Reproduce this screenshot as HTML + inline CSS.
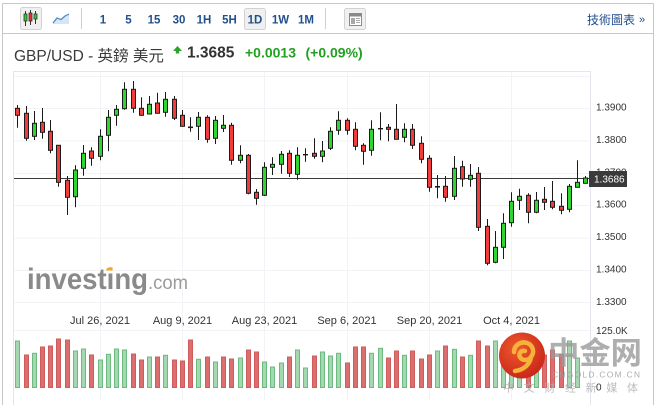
<!DOCTYPE html>
<html><head><meta charset="utf-8">
<style>
html,body{margin:0;padding:0;background:#fff;}
body{width:656px;height:405px;overflow:hidden;}
svg{display:block;font-family:"Liberation Sans","Noto Sans CJK TC",sans-serif;}
.r{fill:#f23b3b;stroke:#1a1a1a;stroke-width:1}
.g{fill:#30d630;stroke:#1a1a1a;stroke-width:1}
.vr{fill:#dc6e6e;stroke:#cf5c5c;stroke-width:1}
.vg{fill:#a3d8b0;stroke:#6cba80;stroke-width:1}
.ax{font-size:10px;fill:#333}
.dt{font-size:11px;fill:#333;text-anchor:middle}
.iv{font-size:11.5px;font-weight:bold;fill:#22508c;text-anchor:middle}
</style></head>
<body>
<svg width="656" height="405" viewBox="0 0 656 405" xmlns="http://www.w3.org/2000/svg">
<!-- widget frame -->
<rect x="0" y="0" width="656" height="405" fill="#fff"/>
<path d="M2.5 3.5H653.5M2.5 3.5V405M653.5 3.5V405M2.5 33.5H653.5" stroke="#c8c8c8" fill="none"/>

<!-- toolbar -->
<rect x="20.5" y="7.5" width="21" height="22" rx="2" fill="#f0f0f0" stroke="#d2d2d2"/>
<path d="M25.5 11V26M30.5 10V25M35.5 11V24" stroke="#333"/>
<rect x="24" y="14" width="3" height="7" fill="#2fcf2f" stroke="#333" stroke-width="0.8"/>
<rect x="29" y="13" width="3" height="8" fill="#f03030" stroke="#333" stroke-width="0.8"/>
<rect x="34" y="14" width="3" height="5" fill="#2fcf2f" stroke="#333" stroke-width="0.8"/>
<path d="M53 23L57 18L61 19.5L65 16L69 14V24H53Z" fill="#d6e6f5"/>
<path d="M53 23L57 18L61 19.5L65 16L69 14" stroke="#4a86c5" stroke-width="1.2" fill="none"/>
<path d="M81.5 8V29M325.5 8V29" stroke="#cfcfcf"/>
<rect x="244.5" y="8.5" width="21" height="21" rx="2" fill="#f0f0f0" stroke="#d2d2d2"/>
<text class="iv" x="103" y="23.5">1</text>
<text class="iv" x="128.5" y="23.5">5</text>
<text class="iv" x="154" y="23.5">15</text>
<text class="iv" x="179" y="23.5">30</text>
<text class="iv" x="204" y="23.5">1H</text>
<text class="iv" x="229.5" y="23.5">5H</text>
<text class="iv" x="255" y="23.5">1D</text>
<text class="iv" x="280.5" y="23.5">1W</text>
<text class="iv" x="306" y="23.5">1M</text>
<rect x="344.5" y="8.5" width="21" height="21" rx="2" fill="#f0f0f0" stroke="#d2d2d2"/>
<rect x="349.5" y="13.5" width="12" height="12" fill="#fff" stroke="#8a8a8a"/>
<rect x="349.5" y="13.5" width="12" height="3" fill="#8a8a8a"/>
<rect x="351" y="18" width="4" height="6" fill="#a8a8a8"/>
<path d="M356 18.5H360M356 20.5H360M356 22.5H360" stroke="#a8a8a8"/>
<text x="587" y="24" font-size="12" fill="#1f4d8c" font-family="'Liberation Sans','Noto Sans CJK TC',sans-serif">技術圖表</text>
<text x="639" y="23" font-size="11" fill="#1f4d8c">»</text>

<!-- info row -->
<text x="14" y="61" font-size="15.5" fill="#3a3a3a" font-family="'Liberation Sans','Noto Sans CJK TC',sans-serif">GBP/USD - 英鎊 美元</text>
<path d="M173 51L177.5 46L182 51H179.2V53.5H175.8V51Z" fill="#2aa52a"/>
<text x="187" y="57.5" font-size="15.5" font-weight="bold" fill="#333">1.3685</text>
<text x="245" y="57.5" font-size="14" font-weight="bold" fill="#22a022">+0.0013</text>
<text x="305.5" y="57.5" font-size="14" font-weight="bold" fill="#22a022">(+0.09%)</text>

<!-- chart frame & grid -->
<path d="M13.5 71V405M590.5 71V405M13.5 71.5H590.5" stroke="#e3e7ed" fill="none"/>
<path d="M14 76.5H590M14 108.5H590M14 141H590M14 173.5H590M14 205.5H590M14 238H590M14 270.5H590M14 302.5H590M14 330.5H590" stroke="#f1f3f6" fill="none"/>
<path d="M100.5 72V400M182.5 72V400M264.5 72V400M347.5 72V400M429.5 72V400M511.5 72V400" stroke="#f1f3f6" fill="none"/>

<!-- investing watermark -->
<text x="27" y="289" font-size="30" font-weight="bold" fill="#8a8a8a" textLength="121" lengthAdjust="spacingAndGlyphs">investing</text>
<text x="148" y="289" font-size="19" fill="#9a9a9a" textLength="40" lengthAdjust="spacingAndGlyphs">.com</text>
<path d="M107 268H113L112 270.5H106Z" fill="#f5a623"/>

<!-- axis labels -->
<text class="ax" x="596" y="110.7">1.3900</text>
<text class="ax" x="596" y="143">1.3800</text>
<text class="ax" x="596" y="175.5">1.3700</text>
<text class="ax" x="596" y="207.6">1.3600</text>
<text class="ax" x="596" y="240">1.3500</text>
<text class="ax" x="596" y="272.3">1.3400</text>
<text class="ax" x="596" y="304.8">1.3300</text>
<text class="ax" x="596" y="334">125.0K</text>
<text class="ax" x="596" y="390.5">0</text>

<!-- date labels -->
<text class="dt" x="100" y="324">Jul 26, 2021</text>
<text class="dt" x="182.5" y="324">Aug 9, 2021</text>
<text class="dt" x="264.5" y="324">Aug 23, 2021</text>
<text class="dt" x="347" y="324">Sep 6, 2021</text>
<text class="dt" x="429.5" y="324">Sep 20, 2021</text>
<text class="dt" x="511.5" y="324">Oct 4, 2021</text>

<!-- volume -->
<g>
<rect class="vg" x="15.5" y="341" width="4" height="46.5"/>
<rect class="vr" x="24.5" y="355" width="4" height="32.5"/>
<rect class="vg" x="32.5" y="353.3" width="4" height="34.2"/>
<rect class="vr" x="40.5" y="347" width="4" height="40.5"/>
<rect class="vr" x="48.5" y="346" width="4" height="41.5"/>
<rect class="vr" x="56.5" y="339" width="4" height="48.5"/>
<rect class="vr" x="65.5" y="340" width="4" height="47.5"/>
<rect class="vg" x="73.5" y="351" width="4" height="36.5"/>
<rect class="vg" x="81.5" y="349" width="4" height="38.5"/>
<rect class="vr" x="89.5" y="355" width="4" height="32.5"/>
<rect class="vg" x="98.5" y="360" width="4" height="27.5"/>
<rect class="vg" x="106.5" y="354.3" width="4" height="33.2"/>
<rect class="vg" x="114.5" y="349" width="4" height="38.5"/>
<rect class="vg" x="122.5" y="350" width="4" height="37.5"/>
<rect class="vr" x="131.5" y="354" width="4" height="33.5"/>
<rect class="vr" x="139.5" y="360" width="4" height="27.5"/>
<rect class="vg" x="147.5" y="357" width="4" height="30.5"/>
<rect class="vr" x="155.5" y="357" width="4" height="30.5"/>
<rect class="vg" x="163.5" y="355.3" width="4" height="32.2"/>
<rect class="vr" x="172.5" y="360" width="4" height="27.5"/>
<rect class="vr" x="180.5" y="361" width="4" height="26.5"/>
<rect class="vr" x="188.5" y="340" width="4" height="47.5"/>
<rect class="vg" x="196.5" y="359.3" width="4" height="28.2"/>
<rect class="vr" x="205.5" y="357" width="4" height="30.5"/>
<rect class="vg" x="213.5" y="362" width="4" height="25.5"/>
<rect class="vr" x="221.5" y="357" width="4" height="30.5"/>
<rect class="vr" x="229.5" y="359" width="4" height="28.5"/>
<rect class="vg" x="238.5" y="358" width="4" height="29.5"/>
<rect class="vr" x="246.5" y="350" width="4" height="37.5"/>
<rect class="vr" x="254.5" y="352" width="4" height="35.5"/>
<rect class="vg" x="262.5" y="362" width="4" height="25.5"/>
<rect class="vg" x="270.5" y="367" width="4" height="20.5"/>
<rect class="vg" x="279.5" y="363" width="4" height="24.5"/>
<rect class="vr" x="287.5" y="357" width="4" height="30.5"/>
<rect class="vg" x="295.5" y="350" width="4" height="37.5"/>
<rect class="vg" x="303.5" y="368" width="4" height="19.5"/>
<rect class="vr" x="312.5" y="356" width="4" height="31.5"/>
<rect class="vg" x="320.5" y="352" width="4" height="35.5"/>
<rect class="vg" x="328.5" y="356" width="4" height="31.5"/>
<rect class="vg" x="336.5" y="353.3" width="4" height="34.2"/>
<rect class="vr" x="345.5" y="363" width="4" height="24.5"/>
<rect class="vr" x="353.5" y="347" width="4" height="40.5"/>
<rect class="vr" x="361.5" y="347" width="4" height="40.5"/>
<rect class="vg" x="369.5" y="353.3" width="4" height="34.2"/>
<rect class="vg" x="378.5" y="348.3" width="4" height="39.2"/>
<rect class="vr" x="386.5" y="358" width="4" height="29.5"/>
<rect class="vr" x="394.5" y="351" width="4" height="36.5"/>
<rect class="vg" x="402.5" y="355.3" width="4" height="32.2"/>
<rect class="vr" x="410.5" y="351" width="4" height="36.5"/>
<rect class="vr" x="419.5" y="359" width="4" height="28.5"/>
<rect class="vr" x="427.5" y="355" width="4" height="32.5"/>
<rect class="vg" x="435.5" y="351" width="4" height="36.5"/>
<rect class="vr" x="443.5" y="346" width="4" height="41.5"/>
<rect class="vg" x="452.5" y="349.3" width="4" height="38.2"/>
<rect class="vr" x="460.5" y="357" width="4" height="30.5"/>
<rect class="vg" x="468.5" y="355.3" width="4" height="32.2"/>
<rect class="vr" x="476.5" y="341" width="4" height="46.5"/>
<rect class="vr" x="485.5" y="346" width="4" height="41.5"/>
<rect class="vg" x="493.5" y="341" width="4" height="46.5"/>
<rect class="vg" x="501.5" y="345" width="4" height="42.5"/>
<rect class="vg" x="509.5" y="348" width="4" height="39.5"/>
<rect class="vg" x="517.5" y="350" width="4" height="37.5"/>
<rect class="vr" x="526.5" y="348" width="4" height="39.5"/>
<rect class="vg" x="534.5" y="352" width="4" height="35.5"/>
<rect class="vr" x="542.5" y="355" width="4" height="32.5"/>
<rect class="vr" x="550.5" y="350" width="4" height="37.5"/>
<rect class="vr" x="559.5" y="354.3" width="4" height="33.2"/>
<rect class="vg" x="567.5" y="341" width="4" height="46.5"/>
<rect class="vg" x="575.5" y="358" width="4" height="29.5"/>
</g>

<!-- current price line -->
<path d="M14 178.5H590" stroke="#3a3a3a" stroke-width="1"/>

<!-- candle wicks -->
<path stroke="#1a1a1a" stroke-width="1" fill="none" d="M17.5 105V127.7M26.5 106V140.7M34.5 111V140M42.5 108V138.7M50.5 120V153.3M58.5 145.3V186.7M67.5 176V215M75.5 165.3V207.3M83.5 145V175.7M91.5 147.3V165.7M100.5 129.3V160.3M108.5 110V151.3M116.5 105V125.7M124.5 82.3V109.7M133.5 81V112.7M141.5 97.3V115.7M149.5 96V114.3M157.5 92.7V113.3M165.5 92V116.7M174.5 96V120M182.5 110V126.7M190.5 117.3V131.7M198.5 112V140M207.5 115.3V142.7M215.5 116V144M223.5 115V132M231.5 122.7V164.7M240.5 145.3V163.3M248.5 154V194.3M256.5 189V204.7M264.5 162.3V196M272.5 157.3V175M281.5 151V173.7M289.5 150.3V177M297.5 147.3V179.7M305.5 148.3V161.7M314.5 138.3V158.7M322.5 141V162.3M330.5 127.3V150M338.5 111.3V134.7M347.5 118.3V134.7M355.5 122.3V150.3M363.5 143.3V164.7M371.5 120.3V155.7M380.5 112.3V140.3M388.5 124V141.3M396.5 104V139.3M404.5 123.3V142.3M412.5 124V149M421.5 136.3V163.3M429.5 155.3V191.7M437.5 175V198.3M445.5 176V201.7M454.5 156V200M462.5 160.7V186.7M470.5 164V186.7M478.5 167V231M487.5 219V265.3M495.5 231V263.3M503.5 213.3V259M511.5 192.3V226.7M519.5 188.7V210M528.5 193.3V223.3M536.5 192V213.3M544.5 187V210M552.5 181V209.3M561.5 193.3V214.3M569.5 184V212.3M577.5 160.3V187.3M585.5 176V183.3"/>

<!-- candle bodies -->
<g>
<rect class="r" x="15.5" y="108.3" width="4" height="7"/>
<rect class="r" x="24.5" y="113.3" width="4" height="25"/>
<rect class="g" x="32.5" y="123.3" width="4" height="13"/>
<rect class="r" x="40.5" y="122.3" width="4" height="10"/>
<rect class="r" x="48.5" y="131.3" width="4" height="19"/>
<rect class="r" x="56.5" y="145.3" width="4" height="37"/>
<rect class="r" x="65.5" y="180.3" width="4" height="17"/>
<rect class="g" x="73.5" y="170" width="4" height="26.7"/>
<rect class="g" x="81.5" y="153.3" width="4" height="15"/>
<rect class="r" x="89.5" y="151" width="4" height="7.3"/>
<rect class="g" x="98.5" y="136.3" width="4" height="20"/>
<rect class="g" x="106.5" y="117.3" width="4" height="18"/>
<rect class="g" x="114.5" y="109.3" width="4" height="6"/>
<rect class="g" x="122.5" y="89.3" width="4" height="19.4"/>
<rect class="r" x="131.5" y="89.3" width="4" height="19"/>
<rect class="r" x="139.5" y="108.3" width="4" height="7"/>
<rect class="g" x="147.5" y="104.3" width="4" height="9.7"/>
<rect class="r" x="155.5" y="103" width="4" height="10.3"/>
<rect class="g" x="163.5" y="99.3" width="4" height="13"/>
<rect class="r" x="172.5" y="99.3" width="4" height="19"/>
<rect class="r" x="180.5" y="115.3" width="4" height="11"/>
<rect x="188" y="126.5" width="5" height="1.6" fill="#2a1a1a"/>
<rect class="g" x="196.5" y="117.3" width="4" height="9"/>
<rect class="r" x="205.5" y="117.3" width="4" height="22"/>
<rect class="g" x="213.5" y="120.3" width="4" height="18"/>
<rect class="g" x="221.5" y="125.3" width="4" height="3"/>
<rect class="r" x="229.5" y="125.3" width="4" height="35"/>
<rect class="g" x="238.5" y="155.3" width="4" height="5"/>
<rect class="r" x="246.5" y="155.3" width="4" height="38"/>
<rect class="r" x="254.5" y="192.3" width="4" height="6"/>
<rect class="g" x="262.5" y="167.3" width="4" height="28"/>
<rect class="g" x="270.5" y="164.3" width="4" height="3"/>
<rect class="g" x="279.5" y="154.3" width="4" height="10"/>
<rect class="r" x="287.5" y="153.3" width="4" height="20"/>
<rect class="g" x="295.5" y="155.3" width="4" height="19"/>
<rect x="303" y="154" width="5" height="1.4" fill="#1a1a1a"/>
<rect class="r" x="312.5" y="153.3" width="4" height="3"/>
<rect class="g" x="320.5" y="151" width="4" height="5.3"/>
<rect class="g" x="328.5" y="131.3" width="4" height="17"/>
<rect class="g" x="336.5" y="120.3" width="4" height="10"/>
<rect class="r" x="345.5" y="120.3" width="4" height="10"/>
<rect class="r" x="353.5" y="129.3" width="4" height="17"/>
<rect class="r" x="361.5" y="145.3" width="4" height="6"/>
<rect class="g" x="369.5" y="129.3" width="4" height="21"/>
<rect x="378" y="128" width="5" height="1.4" fill="#1a1a1a"/>
<rect class="r" x="386.5" y="127.3" width="4" height="2"/>
<rect class="r" x="394.5" y="129.3" width="4" height="10"/>
<rect class="g" x="402.5" y="129.3" width="4" height="8"/>
<rect class="r" x="410.5" y="129.3" width="4" height="16"/>
<rect class="r" x="419.5" y="143.3" width="4" height="16"/>
<rect class="r" x="427.5" y="158.3" width="4" height="29"/>
<rect x="435" y="186" width="5" height="1.6" fill="#1a1a1a"/>
<rect class="r" x="443.5" y="186.3" width="4" height="11"/>
<rect class="g" x="452.5" y="168.3" width="4" height="28"/>
<rect class="r" x="460.5" y="166.7" width="4" height="12.3"/>
<rect class="g" x="468.5" y="175.3" width="4" height="4"/>
<rect class="r" x="476.5" y="173.3" width="4" height="54"/>
<rect class="r" x="485.5" y="226.3" width="4" height="37"/>
<rect class="g" x="493.5" y="247.3" width="4" height="15"/>
<rect class="g" x="501.5" y="223.3" width="4" height="24"/>
<rect class="g" x="509.5" y="201.3" width="4" height="21.4"/>
<rect class="g" x="517.5" y="196.3" width="4" height="4"/>
<rect class="r" x="526.5" y="195.3" width="4" height="17"/>
<rect class="g" x="534.5" y="200.3" width="4" height="12"/>
<rect class="r" x="542.5" y="199.3" width="4" height="3"/>
<rect class="r" x="550.5" y="201.3" width="4" height="6"/>
<rect class="r" x="559.5" y="206.3" width="4" height="4"/>
<rect class="g" x="567.5" y="186.3" width="4" height="23"/>
<rect class="g" x="575.5" y="182.3" width="4" height="5"/>
<rect class="g" x="583.5" y="178" width="4" height="5.3"/>
</g>

<!-- price box -->
<rect x="589" y="171" width="38" height="16" fill="#3a3a3a"/>
<text x="594" y="182.6" font-size="10" fill="#fff">1.3686</text>

<!-- cngold watermark -->
<defs>
<radialGradient id="lg" cx="0.4" cy="0.35" r="0.7">
<stop offset="0" stop-color="#ee5a2c"/>
<stop offset="1" stop-color="#c8241a"/>
</radialGradient>
</defs>
<circle cx="522" cy="355.5" r="23" fill="url(#lg)"/>
<path d="M514 352c0-7 7-11 13-9c6 2 8 9 4 14c-3 4-9 4-11 0c-2-3 1-7 5-6" stroke="#f6b23a" stroke-width="4.5" fill="none" stroke-linecap="round"/>
<path d="M531 357c-1 7-7 13-16 14" stroke="#f6b23a" stroke-width="4.5" fill="none" stroke-linecap="round"/>
<text x="548" y="364" font-size="31" font-weight="bold" fill="#9a9a9a" fill-opacity="0.8" textLength="94" lengthAdjust="spacingAndGlyphs" font-family="'Liberation Sans','Noto Sans CJK SC',sans-serif">中金网</text>
<text x="552" y="377.5" font-size="8.5" fill="#a0a0a0" fill-opacity="0.85" textLength="88" lengthAdjust="spacing">CNGOLD.COM.CN</text>
<text x="503" y="391.5" font-size="11" fill="#b0b0b0" fill-opacity="0.85" textLength="135" lengthAdjust="spacing" font-family="'Liberation Sans','Noto Sans CJK SC',sans-serif">中文财经新媒体</text>
</svg>
</body></html>
